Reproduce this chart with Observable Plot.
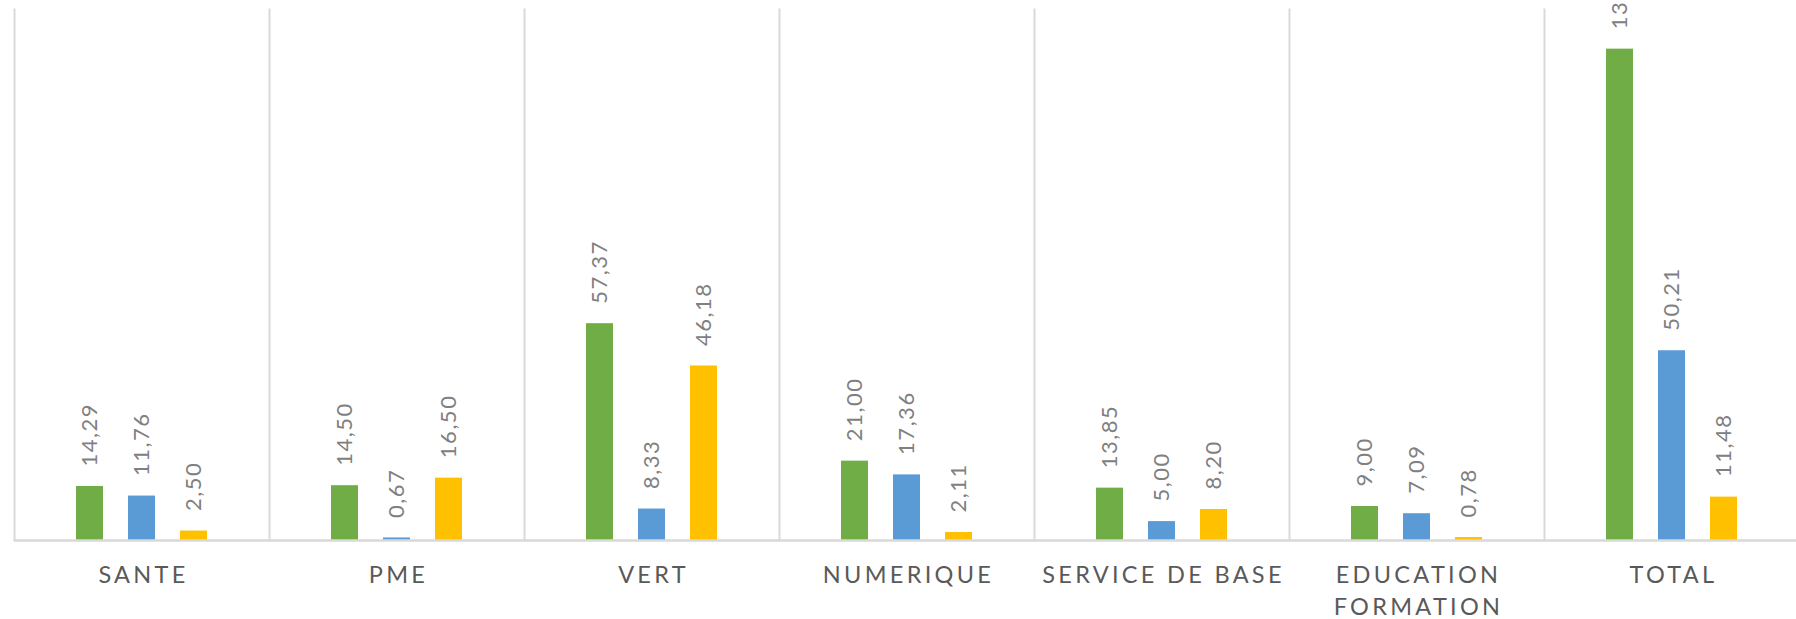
<!DOCTYPE html>
<html>
<head>
<meta charset="utf-8">
<script src="https://cdn.jsdelivr.net/npm/d3@7"></script>
<script src="https://cdn.jsdelivr.net/npm/@observablehq/plot@0.6"></script>
<style>
  html, body { margin: 0; padding: 0; background: #fff; overflow: hidden; }
  #chart svg { display: block; }
  g[aria-label="fx-axis tick label"] text { letter-spacing: 3.3px; }
  g[aria-label="text"] text { letter-spacing: 1.5px; }
</style>
</head>
<body>
<div id="chart"></div>
<script>
// Categories (x groups) and their displayed tick labels
const categories = ["SANTE", "PME", "VERT", "NUMERIQUE", "SERVICE DE BASE", "EDUCATION FORMATION", "TOTAL"];
const tickLabels = ["SANTE", "PME", "VERT", "NUMERIQUE", "SERVICE DE BASE", "EDUCATION\nFORMATION", "TOTAL"];

// Series (three bars per category)
const seriesNames = ["Série 1", "Série 2", "Série 3"];
const seriesColors = ["#70AD47", "#5B9BD5", "#FFC000"];

// Values
const greenValues  = [14.29, 14.50, 57.37, 21.00, 13.85, 9.00, 130.01];
const blueValues   = [11.76, 0.67, 8.33, 17.36, 5.00, 7.09, 50.21];
const yellowValues = [2.50, 16.50, 46.18, 2.11, 8.20, 0.78, 11.48];

const valuesBySeries = [greenValues, blueValues, yellowValues];
const data = categories.flatMap((c, i) =>
  seriesNames.map((s, j) => ({category: c, series: s, value: valuesBySeries[j][i]}))
);
const labelOf = new Map(categories.map((c, i) => [c, tickLabels[i]]));
const fmt = (v) => d3.format(".2f")(v).replace(".", ",");

const chart = Plot.plot({
  width: 1796,
  height: 619,
  marginTop: 9,
  marginBottom: 79,
  marginLeft: 11,
  marginRight: -6,
  style: {fontFamily: "Lato, 'Open Sans', sans-serif", background: "#fff"},
  fx: {domain: categories, padding: 0, label: null},
  x: {domain: seriesNames, paddingInner: 0.482, paddingOuter: 1.168, axis: null},
  y: {domain: [0, 140.5], axis: null},
  color: {domain: seriesNames, range: seriesColors},
  marks: [
    Plot.frame({anchor: "left", stroke: "#d9d9d9", strokeWidth: 2, strokeOpacity: 1}),
    Plot.barY(data, {fx: "category", x: "series", y: "value", fill: "series"}),
    Plot.ruleY([0], {stroke: "#d9d9d9", strokeWidth: 2.5}),
    Plot.text(data, {
      fx: "category", x: "series", y: "value",
      text: (d) => fmt(d.value),
      rotate: -90, textAnchor: "start", dy: -20,
      fill: "#808080", fontSize: 22
    }),
    Plot.axisFx({
      anchor: "bottom", tickSize: 0, tickPadding: 20,
      tickFormat: (d) => labelOf.get(d),
      fontSize: 23.5, color: "#595959", lineHeight: 1.36, label: null, dx: 1.5
    })
  ]
});
document.getElementById("chart").append(chart);
</script>
</body>
</html>
